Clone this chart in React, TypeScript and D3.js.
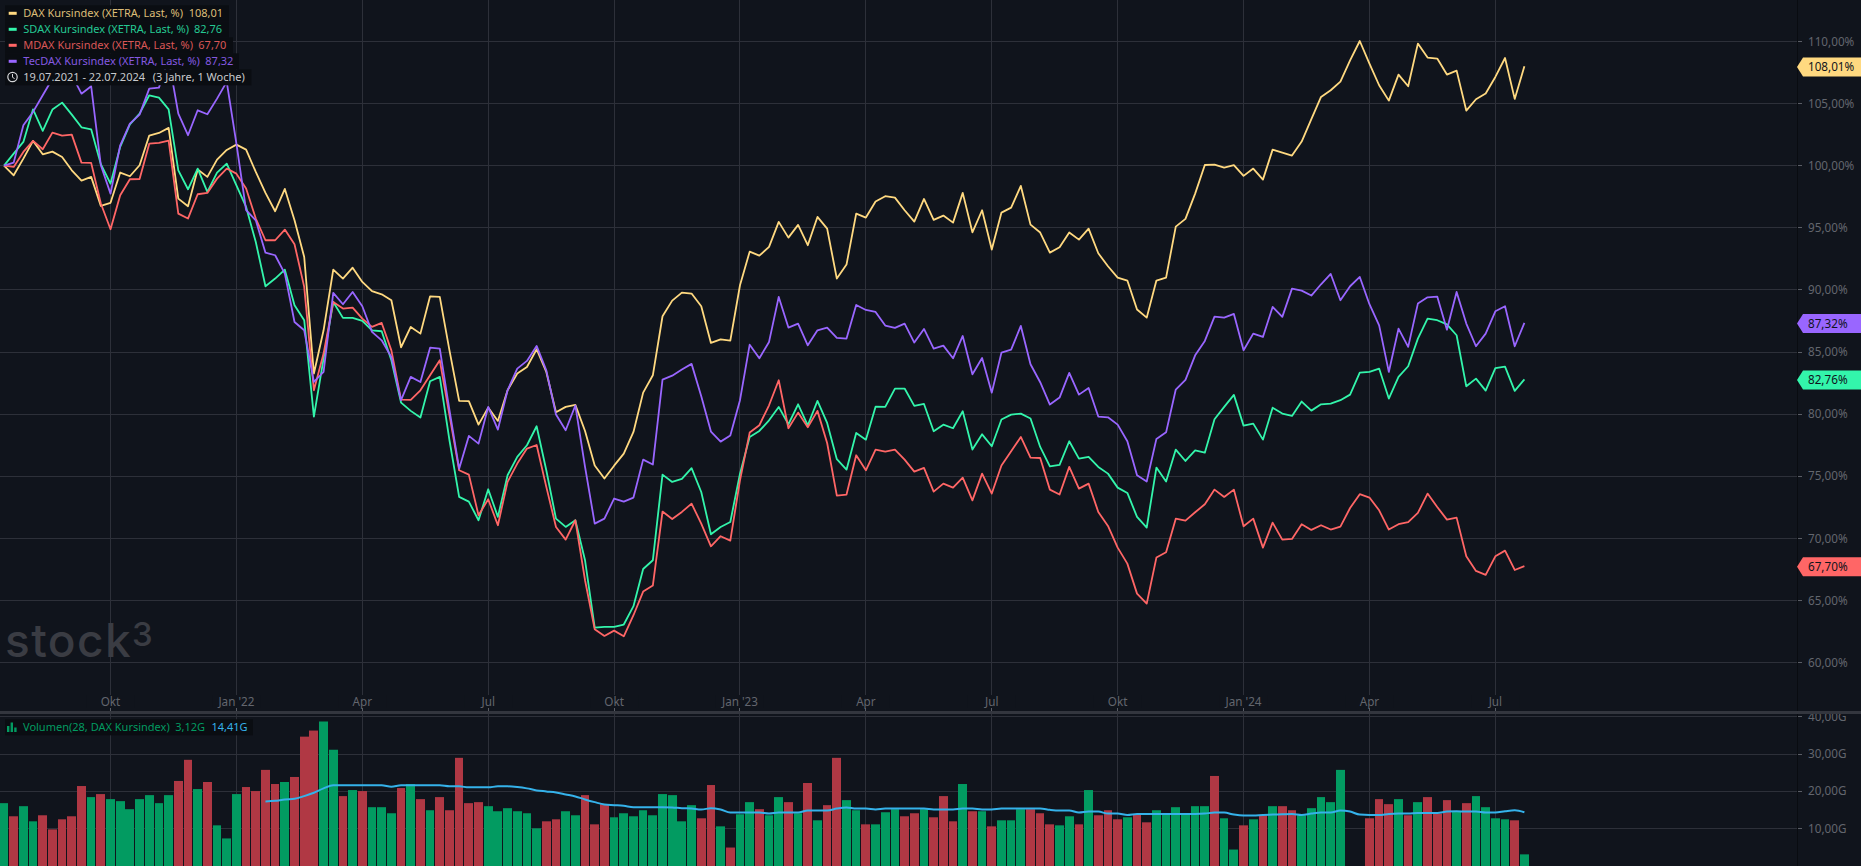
import React from "react";
import * as d3 from "d3";

const WIDTH = 1861;
const HEIGHT = 866;

const daxValues = [
  100, 99.22, 100.56, 101.99, 100.91, 101.13, 100.7, 99.62, 98.79, 99.09,
  96.75, 97.0, 99.44, 99.14, 100.03, 102.42, 102.63, 103.04, 97.34, 96.72,
  99.68, 99.09, 100.48, 101.26, 101.69, 101.29, 99.49, 97.8, 96.32, 98.12,
  95.59, 92.63, 83.23, 86.72, 91.61, 90.89, 91.77, 90.62, 89.87, 89.62,
  89.14, 85.35, 86.99, 86.45, 89.46, 89.41, 85.1, 81.02, 81.0, 79.11,
  80.48, 79.41, 81.88, 83.23, 83.76, 85.19, 83.36, 80.11, 80.54, 80.7,
  78.6, 75.81, 74.76, 75.8, 76.77, 78.52, 81.69, 83.09, 87.85, 89.11,
  89.76, 89.68, 88.66, 85.7, 85.99, 85.89, 90.35, 93.06, 92.74, 93.44,
  95.46, 94.19, 95.22, 93.58, 95.86, 94.92, 90.89, 92.02, 96.13, 95.81,
  97.1, 97.53, 97.42, 96.4, 95.48, 97.31, 95.62, 95.97, 95.4, 97.8,
  94.62, 96.4, 93.23, 96.21, 96.61, 98.36, 95.24, 94.6, 92.98, 93.41,
  94.6, 94.03, 94.92, 92.93, 91.88, 90.97, 90.73, 88.39, 87.74, 90.73,
  90.97, 95.08, 95.7, 97.74, 100.05, 100.08, 99.84, 100.03, 99.17, 99.76,
  98.87, 101.29, 101.05, 100.81, 101.94, 103.74, 105.54, 106.08, 106.77, 108.49,
  110.05, 108.23, 106.48, 105.24, 107.34, 106.4, 109.84, 108.71, 108.63, 107.34,
  107.66, 104.44, 105.35, 105.81, 107.15, 108.68, 105.38, 108.01,
];

const sdaxValues = [
  100, 100.97, 101.91, 104.54, 102.8, 104.52, 105.08, 104.11, 103.09, 102.93,
  100.11, 98.55, 101.51, 103.33, 104.19, 105.67, 105.48, 104.54, 99.62, 98.09,
  99.76, 97.88, 99.44, 100.16, 98.41, 96.67, 93.84, 90.27, 90.89, 91.61,
  88.74, 87.53, 79.76, 84.44, 89.0, 87.72, 87.72, 87.47, 86.72, 86.64,
  84.3, 80.89, 80.22, 79.68, 82.61, 82.96, 77.85, 73.28, 72.9, 71.4,
  73.9, 71.67, 75.03, 76.51, 77.45, 78.98, 75.43, 71.53, 70.86, 71.4,
  68.17, 62.74, 62.8, 62.8, 62.99, 64.47, 67.47, 68.17, 75.08, 74.49,
  74.73, 75.6, 73.68, 70.27, 70.86, 71.26, 75.16, 78.12, 78.6, 79.46,
  80.54, 79.14, 80.75, 79.06, 81.02, 79.25, 76.32, 75.48, 78.44, 77.9,
  80.56, 80.54, 82.02, 82.02, 80.62, 80.78, 78.58, 79.11, 78.82, 80.19,
  77.1, 78.33, 77.37, 79.52, 79.92, 80.0, 79.6, 77.31, 75.75, 75.86,
  77.77, 76.37, 76.51, 75.7, 75.16, 74.03, 73.6, 71.67, 70.81, 75.65,
  74.52, 77.1, 76.18, 77.04, 76.85, 79.54, 80.54, 81.51, 79.03, 79.19,
  77.9, 80.48, 80.0, 79.81, 80.97, 80.24, 80.75, 80.81, 81.08, 81.53,
  83.31, 83.36, 83.63, 81.21, 82.96, 83.82, 86.05, 87.66, 87.53, 87.2,
  86.32, 82.2, 82.82, 81.85, 83.66, 83.79, 81.83, 82.76,
];

const mdaxValues = [
  100, 99.89, 101.1, 101.99, 101.32, 102.66, 102.42, 102.5, 100.24, 100.22,
  96.94, 94.87, 97.61, 98.9, 98.92, 101.77, 101.83, 102.02, 96.13, 95.73,
  97.69, 97.8, 98.95, 99.76, 99.35, 98.15, 95.73, 93.98, 93.98, 94.84,
  93.66, 90.22, 81.88, 84.84, 89.0, 88.47, 88.55, 87.66, 86.99, 87.31,
  85.1, 81.13, 81.1, 81.88, 83.09, 84.3, 79.87, 75.43, 75.08, 71.8,
  73.09, 71.0, 74.49, 75.97, 77.18, 77.47, 74.09, 70.86, 69.84, 71.4,
  66.56, 62.6, 62.07, 62.5, 62.04, 63.74, 65.65, 66.13, 72.1, 71.5,
  72.07, 72.74, 71.13, 69.3, 70.11, 69.76, 74.62, 78.47, 79.06, 80.67,
  82.69, 78.82, 80.08, 78.9, 80.22, 77.63, 73.39, 73.47, 76.64, 75.43,
  77.1, 76.94, 77.1, 76.29, 75.32, 75.62, 73.71, 74.35, 74.03, 74.84,
  73.0, 75.16, 73.55, 75.81, 76.96, 78.12, 76.45, 76.42, 73.87, 73.47,
  75.7, 73.95, 74.35, 72.07, 70.94, 69.19, 67.9, 65.48, 64.68, 68.39,
  68.82, 71.53, 71.37, 72.04, 72.69, 73.87, 73.28, 73.87, 70.91, 71.53,
  69.19, 71.21, 69.84, 69.89, 71.08, 70.62, 71.0, 70.65, 70.89, 72.39,
  73.5, 73.23, 72.2, 70.65, 71.08, 71.24, 71.99, 73.55, 72.47, 71.45,
  71.61, 68.49, 67.31, 66.99, 68.49, 68.95, 67.39, 67.7,
];

const tecdaxValues = [
  100, 100.24, 103.25, 104.33, 105.67, 107.0, 107.55, 107.3, 105.8, 106.4,
  100.03, 97.74, 101.64, 103.39, 104.11, 106.21, 106.29, 108.6, 104.19, 102.45,
  104.46, 104.14, 105.4, 106.75, 101.77, 96.4, 95.59, 92.98, 92.77, 91.29,
  87.39, 86.72, 82.55, 83.36, 89.73, 88.82, 89.81, 88.66, 86.59, 85.91,
  84.57, 81.08, 82.96, 82.55, 85.32, 85.24, 80.27, 75.56, 78.2, 77.58,
  80.54, 78.71, 81.88, 83.63, 84.25, 85.46, 83.49, 79.92, 78.66, 80.65,
  75.7, 71.13, 71.53, 73.15, 72.9, 73.23, 76.29, 75.89, 82.74, 83.06,
  83.55, 84.01, 81.4, 78.55, 77.74, 78.23, 81.08, 85.56, 84.46, 85.78,
  89.41, 86.94, 87.26, 85.51, 86.72, 86.94, 86.1, 86.05, 88.76, 88.36,
  88.2, 87.1, 86.91, 87.26, 85.73, 86.83, 85.24, 85.48, 84.46, 86.26,
  83.17, 84.49, 81.69, 84.92, 85.16, 87.07, 83.98, 82.53, 80.73, 81.29,
  83.28, 81.53, 82.07, 79.76, 79.7, 79.11, 77.77, 75.03, 74.52, 77.96,
  78.49, 81.94, 82.72, 84.7, 85.86, 87.82, 87.74, 88.04, 85.11, 86.45,
  86.18, 88.6, 87.8, 90.08, 89.92, 89.52, 90.43, 91.26, 89.14, 90.27,
  91.02, 88.82, 87.12, 83.36, 86.85, 85.38, 88.87, 89.38, 89.44, 86.77,
  89.81, 87.26, 85.43, 86.45, 88.25, 88.66, 85.43, 87.32,
];

const volumeValues: (number | null)[] = [
  16.85, 13.33, 16.04, 11.98, 13.6, 9.82, 12.52, 13.33, 21.44, 18.47,
  19.28, 17.93, 17.39, 15.23, 17.93, 19.0, 16.85, 19.0, 22.8, 28.47,
  20.63, 22.52, 10.9, 7.39, 19.28, 21.17, 20.09, 25.77, 21.98, 22.52,
  23.87, 34.68, 36.31, 38.74, 31.17, 18.74, 20.36, 20.09, 15.77, 15.77,
  14.14, 20.9, 21.98, 17.93, 14.95, 18.47, 14.95, 29.0, 16.85, 17.12,
  16.04, 14.68, 15.5, 14.68, 14.14, 10.09, 11.98, 12.52, 14.68, 13.6,
  19.0, 11.17, 16.58, 13.06, 14.14, 13.33, 14.95, 13.6, 19.28, 19.0,
  11.98, 16.31, 12.79, 21.71, 10.63, 4.95, 13.87, 17.12, 15.23, 13.6,
  18.47, 17.12, 14.14, 22.25, 12.25, 16.31, 29.0, 17.66, 14.95, 11.17,
  11.17, 14.41, 15.23, 13.33, 14.14, 15.23, 13.06, 18.74, 11.98, 21.98,
  14.68, 14.68, 10.63, 12.25, 12.25, 15.23, 15.23, 14.14, 11.17, 10.9,
  13.33, 11.17, 20.36, 13.6, 14.95, 12.52, 13.06, 13.78, 11.71, 14.95,
  13.87, 15.77, 13.87, 16.04, 16.04, 24.14, 12.79, 4.41, 10.9, 12.52,
  13.6, 16.04, 16.04, 14.95, 13.6, 15.5, 18.47, 17.12, 25.77, null,
  null, 12.79, 17.93, 16.58, 17.93, 13.6, 17.12, 18.47, 14.05, 17.66,
  14.68, 16.85, 18.74, 15.77, 12.79, 12.52, 12.25, 3.12,
];

const volumeSides = (
  "grggrrrrrg" + "rggggggg" + "rr" +
  "grgggrrrrg" +
  "rrrggrgrgg" +
  "grgrgrrrrr" +
  "ggggggrrgg" +
  "rrrggggggg" +
  "ggrrgrggrg" +
  "grgrgrrggr" +
  "gggrrgrrrg" +
  "rgrgggrrrg" +
  "grgrrrgrrg" +
  "gggggrggrg" +
  "rgrrggggg-" +
  "-rrrgrgrrr" +
  "grggggrg"
).split("");

const volumeAverage: (number | null)[] = [
  null, null, null, null, null, null, null, null, null, null,
  null, null, null, null, null, null, null, null, null, null,
  null, null, null, null, null, null, null, 17.3, 17.48, 17.84,
  18.0, 18.74, 19.64, 20.8, 21.62, 21.62, 21.62, 21.62, 21.62, 21.62,
  21.26, 21.62, 21.62, 21.62, 21.62, 21.62, 21.35, 21.35, 21.08, 21.08,
  21.08, 21.35, 21.35, 21.17, 20.81, 20.27, 20.0, 19.73, 19.19, 18.65,
  17.84, 17.12, 16.49, 16.31, 16.13, 15.77, 15.77, 15.77, 15.77, 15.68,
  15.5, 15.4, 15.14, 15.5, 15.14, 14.32, 14.32, 14.32, 14.32, 14.05,
  14.32, 14.32, 14.32, 14.86, 14.86, 14.86, 15.4, 15.68, 15.4, 15.4,
  15.14, 15.4, 15.4, 15.4, 15.4, 15.4, 15.14, 15.14, 15.14, 15.4,
  15.4, 15.14, 15.14, 15.4, 15.4, 15.4, 15.4, 15.4, 15.05, 14.86,
  14.86, 14.32, 14.59, 14.59, 14.05, 14.05, 13.69, 13.96, 13.96, 13.96,
  13.96, 13.96, 13.96, 13.96, 14.05, 14.32, 14.32, 13.78, 13.51, 13.51,
  13.69, 13.78, 13.87, 13.96, 13.69, 14.05, 14.32, 14.32, 14.86, 14.59,
  13.78, 13.69, 13.69, 13.96, 14.05, 14.05, 14.23, 14.23, 14.23, 14.59,
  14.68, 14.59, 14.59, 14.32, 14.32, 14.68, 14.95, 14.41,
];

const priceTicks = [110, 105, 100, 95, 90, 85, 80, 75, 70, 65, 60];
const volumeTicks = [40, 30, 20, 10];
const timeTickWeeks = [11, 24, 37, 50, 63, 76, 89, 102, 115, 128, 141, 154];
const timeTickLabels = ["Okt", "Jan '22", "Apr", "Jul", "Okt", "Jan '23", "Apr", "Jul", "Okt", "Jan '24", "Apr", "Jul"];

const BG = "#10141c";
const GRID = "#2d3039";
const AXIS_TEXT = "#63666e";
const FONT = "'Noto Sans', sans-serif";
const PLOT_RIGHT = 1797;
const AXIS_SIZE = 11.7;
const LEGEND_SIZE = 11;

const seriesList = [
  { name: "DAX Kursindex (XETRA, Last, %)", last: "108,01", values: daxValues, color: "#ffd980", text: "#dcbd78", valueX: 188.7 },
  { name: "SDAX Kursindex (XETRA, Last, %)", last: "82,76", values: sdaxValues, color: "#33f5ab", text: "#25c893", valueX: 194 },
  { name: "MDAX Kursindex (XETRA, Last, %)", last: "67,70", values: mdaxValues, color: "#ff6666", text: "#d95757", valueX: 198.3 },
  { name: "TecDAX Kursindex (XETRA, Last, %)", last: "87,32", values: tecdaxValues, color: "#9966ff", text: "#8559e0", valueX: 205.3 },
];
const legendWidths = [224, 224, 228, 234];

const x = d3.scaleLinear().domain([0, 157]).range([4, 1524.4]);
const y = d3.scaleLinear().domain([60, 110]).range([661.6, 41.6]);
const yGrid = d3.scaleLinear().domain([60, 110]).range([662.5, 41.5]);
const v = d3.scaleLinear().domain([0, 40]).range([866, 716.8]);

const priceLine = d3.line<number>().x((_, i) => x(i)).y((d) => y(d));
const averageLine = d3
  .line<number | null>()
  .defined((d) => d !== null)
  .x((_, i) => x(i))
  .y((d) => v(d as number))
  .curve(d3.curveMonotoneX);

function crisp(n: number) {
  return Math.floor(n) + 0.5;
}

export default function App() {
  return (
    <svg
      width={WIDTH}
      height={HEIGHT}
      viewBox={`0 0 ${WIDTH} ${HEIGHT}`}
      style={{ position: "absolute", left: 0, top: 0, display: "block", fontFamily: FONT }}
    >
      <rect width={WIDTH} height={HEIGHT} fill={BG} />

      {/* grid */}
      {timeTickWeeks.map((w) => (
        <line key={w} x1={crisp(x(w))} x2={crisp(x(w))} y1={0} y2={HEIGHT} stroke={GRID} strokeWidth={1} />
      ))}
      {priceTicks.map((t) => (
        <line key={t} x1={0} x2={PLOT_RIGHT} y1={crisp(yGrid(t))} y2={crisp(yGrid(t))} stroke={GRID} strokeWidth={1} />
      ))}
      {volumeTicks.map((t) => (
        <line key={t} x1={0} x2={PLOT_RIGHT} y1={crisp(v(t))} y2={crisp(v(t))} stroke={GRID} strokeWidth={1} />
      ))}

      {/* time labels */}
      {timeTickWeeks.map((w, i) => (
        <g key={w}>
          <rect x={x(w) - 24} y={695} width={48} height={13} fill={BG} />
          <line x1={crisp(x(w))} x2={crisp(x(w))} y1={708} y2={711} stroke="#5a5d65" />
          <text x={x(w)} y={705.5} textAnchor="middle" fontSize={AXIS_SIZE} fill={AXIS_TEXT}>
            {timeTickLabels[i]}
          </text>
        </g>
      ))}

      {/* watermark */}
      <g fill="#3a3c43" fontFamily="Inter, sans-serif" fontWeight={500}>
        <text x={5} y={657} fontSize={46} letterSpacing={1.4}>
          stock
        </text>
        <text x={132} y={646} fontSize={33}>
          3
        </text>
      </g>

      {/* volume */}
      {volumeValues.map((d, i) =>
        d === null ? null : (
          <rect
            key={i}
            x={Math.round(x(i) - 4.4)}
            y={v(d)}
            width={Math.round(x(i) + 4.3) - Math.round(x(i) - 4.4)}
            height={v(0) - v(d)}
            fill={volumeSides[i] === "g" ? "#029b61" : "#b03844"}
          />
        ),
      )}
      <path d={averageLine(volumeAverage) ?? ""} fill="none" stroke="#35b2ea" strokeWidth={2} />

      {/* price lines */}
      {seriesList.map((s) => (
        <path key={s.name} d={priceLine(s.values) ?? ""} fill="none" stroke={s.color} strokeWidth={1.8} strokeLinejoin="round" />
      ))}

      {/* right axis */}
      <line x1={PLOT_RIGHT + 0.5} x2={PLOT_RIGHT + 0.5} y1={0} y2={HEIGHT} stroke="#090c11" />
      {priceTicks.map((t) => (
        <g key={t}>
          <line x1={1798} x2={1802} y1={crisp(yGrid(t))} y2={crisp(yGrid(t))} stroke="#5a5d65" />
          <text x={1808} y={yGrid(t) + 4.2} fontSize={AXIS_SIZE} fill={AXIS_TEXT}>
            {t},00%
          </text>
        </g>
      ))}
      {volumeTicks.map((t) => (
        <g key={t}>
          <line x1={1798} x2={1802} y1={crisp(v(t))} y2={crisp(v(t))} stroke="#5a5d65" />
          <text x={1808} y={v(t) + 4} fontSize={AXIS_SIZE} fill={AXIS_TEXT}>
            {t},00G
          </text>
        </g>
      ))}

      {/* pane separator */}
      <rect x={0} y={711} width={WIDTH} height={3} fill="#33363e" />

      {/* last value tags */}
      {seriesList.map((s) => {
        const last = s.values[s.values.length - 1];
        const cy = y(last) + 0.6;
        return (
          <g key={s.name}>
            <path
              d={`M1797,${cy} L1803,${cy - 9.5} L1861,${cy - 9.5} L1861,${cy + 9.5} L1803,${cy + 9.5} Z`}
              fill={s.color}
            />
            <text x={1808} y={cy + 4.2} fontSize={AXIS_SIZE} fill="#10141c">
              {s.last}%
            </text>
          </g>
        );
      })}

      {/* legend */}
      {seriesList.map((s, i) => {
        const cy = 13.3 + i * 16;
        return (
          <g key={s.name}>
            <rect x={5} y={cy - 8} width={legendWidths[i]} height={16} fill="#0a0d12" />
            <rect x={8.7} y={cy - 1.5} width={8} height={3} fill={s.color} />
            <text x={23.3} y={cy + 4} fontSize={LEGEND_SIZE} fill={s.text}>
              {s.name}
            </text>
            <text x={s.valueX} y={cy + 4} fontSize={LEGEND_SIZE} fill={s.text}>
              {s.last}
            </text>
          </g>
        );
      })}
      <rect x={5} y={69.3} width={246.5} height={16} fill="#0a0d12" />
      <circle cx={12.5} cy={77} r={4.7} fill="none" stroke="#d5d6d9" strokeWidth={1.2} />
      <path d="M12.5,74 V77.3 L14.6,78.6" fill="none" stroke="#d5d6d9" strokeWidth={1} />
      <text x={23.3} y={81.3} fontSize={LEGEND_SIZE} fill="#c8cacd">
        19.07.2021 - 22.07.2024
      </text>
      <text x={152.7} y={81.3} fontSize={LEGEND_SIZE} fill="#c8cacd">
        (3 Jahre, 1 Woche)
      </text>

      {/* volume legend */}
      <rect x={5} y={719.3} width={248} height={16} fill="#0a0d12" />
      <rect x={7} y={726} width={2.4} height={6} fill="#029b61" />
      <rect x={10.6} y={722.5} width={2.4} height={9.5} fill="#029b61" />
      <rect x={14.2} y={727.5} width={2.4} height={4.5} fill="#029b61" />
      <text x={23} y={731.3} fontSize={LEGEND_SIZE} fill="#029b61">
        Volumen(28, DAX Kursindex)
      </text>
      <text x={175.2} y={731.3} fontSize={LEGEND_SIZE} fill="#029b61">
        3,12G
      </text>
      <text x={211.5} y={731.3} fontSize={LEGEND_SIZE} fill="#35b2ea">
        14,41G
      </text>
    </svg>
  );
}
